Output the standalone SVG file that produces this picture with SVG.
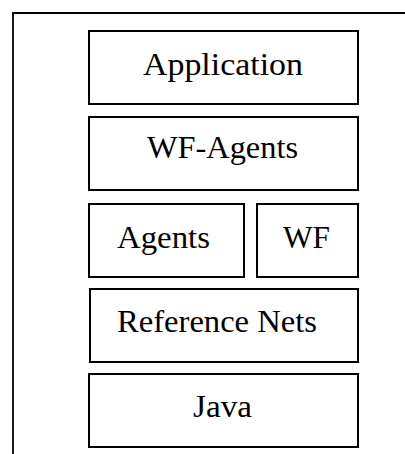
<svg xmlns="http://www.w3.org/2000/svg" width="405" height="454" viewBox="0 0 405 454">
<style>
.box{fill:#fff;stroke:#000;stroke-width:2}
.lbl{font-family:"Liberation Serif","Times New Roman",serif;font-size:31px;fill:#000;text-anchor:middle}
</style>
<rect width="405" height="454" fill="#fff"/>
<g id="frame"><path d="M13,454 V13 H405" fill="none" stroke="#000" stroke-width="1.8"/></g>
<g id="connectors"></g>
<g id="application"><rect class="box" x="89" y="31" width="269" height="73"/><text class="lbl" x="223" y="75" textLength="160" lengthAdjust="spacingAndGlyphs">Application</text></g>
<g id="wf-agents"><rect class="box" x="89" y="117" width="269" height="73"/><text class="lbl" x="222.5" y="158" textLength="151" lengthAdjust="spacingAndGlyphs">WF-Agents</text></g>
<g id="agents"><rect class="box" x="89" y="204" width="155" height="73"/><text class="lbl" x="163.5" y="248" textLength="93" lengthAdjust="spacingAndGlyphs">Agents</text></g>
<g id="wf"><rect class="box" x="257" y="204" width="101" height="73"/><text class="lbl" x="306.5" y="248" textLength="47" lengthAdjust="spacingAndGlyphs">WF</text></g>
<g id="reference-nets"><rect class="box" x="90" y="289" width="268" height="73"/><text class="lbl" x="217" y="332" textLength="200" lengthAdjust="spacingAndGlyphs">Reference Nets</text></g>
<g id="java"><rect class="box" x="89" y="374" width="269" height="73"/><text class="lbl" x="222.5" y="417" textLength="59" lengthAdjust="spacingAndGlyphs">Java</text></g>
</svg>
